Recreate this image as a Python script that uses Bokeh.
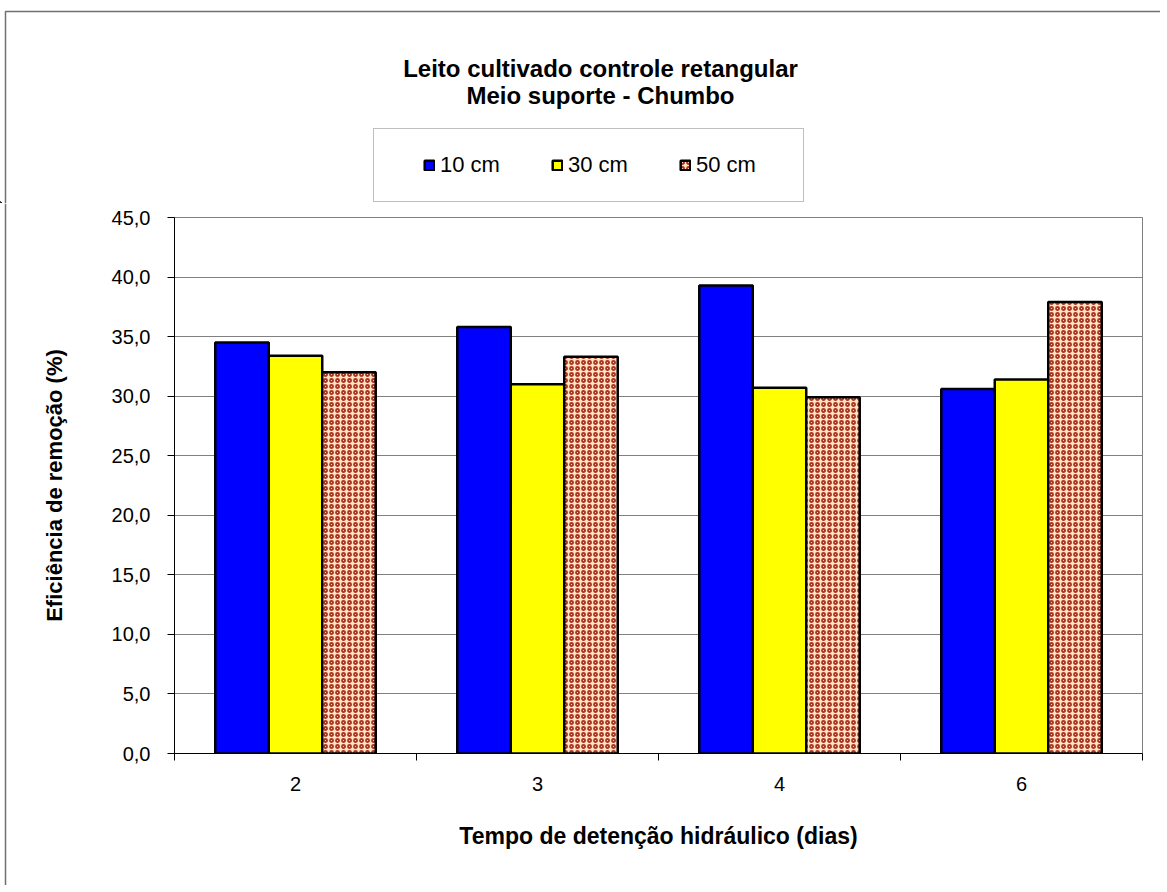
from bokeh.plotting import figure
from bokeh.layouts import column, row
from bokeh.models import Range1d, FixedTicker, Legend, LegendItem, Label
from bokeh.embed import file_html
from bokeh.resources import INLINE

# ---------------- data ----------------
categories = ["2", "3", "4", "6"]
series_names = ["10 cm", "30 cm", "50 cm"]
vals_10cm = [34.5, 35.8, 39.3, 30.6]
vals_30cm = [33.4, 31.0, 30.7, 31.4]
vals_50cm = [32.0, 33.3, 29.9, 37.9]
y_ticks = [0, 5, 10, 15, 20, 25, 30, 35, 40, 45]
y_tick_labels = ["0,0", "5,0", "10,0", "15,0", "20,0", "25,0", "30,0", "35,0", "40,0", "45,0"]
title_lines = ["Leito cultivado controle retangular", "Meio suporte - Chumbo"]
x_title = "Tempo de detenção hidráulico (dias)"
y_title = "Eficiência de remoção (%)"

# ---------------- layout (page px) ----------------
W, H = 1160, 885
HTOP = 203            # header figure height
WS = 10               # left strip width (chart border)
FL, FR, FT, FB = 174, 1142, 217, 753   # plot frame in page px
FONT = "Liberation Sans"
BORDER = dict(line_color="#707070", line_width=1.5)
Y_MAX = y_ticks[-1]
N = len(categories)

series = [vals_10cm, vals_30cm, vals_50cm]
styles = [
    dict(fill_color="#0000FF"),
    dict(fill_color="#FFFF00"),
    dict(fill_color="#FFE5C2", hatch_pattern="ring", hatch_color="#AC3424",
         hatch_scale=6, hatch_weight=1.8),
]

def bare(width, height):
    f = figure(width=width, height=height, x_range=Range1d(0, width), y_range=Range1d(0, height),
               output_backend="svg", toolbar_location=None,
               x_axis_location=None, y_axis_location=None,
               min_border=0, min_border_left=0, min_border_right=0,
               min_border_top=0, min_border_bottom=0, frame_align=False)
    f.grid.visible = False
    f.outline_line_color = None
    f.background_fill_color = "white"
    f.border_fill_color = "white"
    return f

# ---------------- header: title + legend ----------------
top = bare(W, HTOP)
top.line(x=[5, 5, W + 5], y=[0, HTOP - 11, HTOP - 11], **BORDER)
for line, base in zip(title_lines, [68, 95]):
    top.add_layout(Label(x=600, y=HTOP - base, text=line, text_align="center",
                         text_baseline="alphabetic", text_font=FONT,
                         text_font_style="bold", text_font_size="24px", text_color="black"))
# legend proxies (placed outside the visible header range)
dummies = [top.vbar(x=[-100], top=[1], width=1, bottom=0, line_color="black", line_width=2.5, **st)
           for st in styles]
leg = Legend(items=[LegendItem(label=n, renderers=[r]) for n, r in zip(series_names, dummies)],
             location=(373, HTOP - 202), orientation="horizontal",
             title="\u2003", title_location="left", title_standoff=0,
             title_text_font_size="22px",
             padding=23, spacing=27, margin=0,
             glyph_width=12, glyph_height=12, label_standoff=5, label_width=84,
             label_text_font=FONT, label_text_font_size="22px", label_text_color="black",
             border_line_color="#808080", border_line_width=1.5,
             background_fill_color="white", background_fill_alpha=1)
top.add_layout(leg, "center")

# ---------------- left strip (chart border) ----------------
HM = H - HTOP
strip = bare(WS, HM)
strip.line(x=[5, 5], y=[0, HM], **BORDER)

# ---------------- main chart ----------------
WM = W - WS
p = figure(width=WM, height=HM, x_range=Range1d(0, N), y_range=Range1d(0, Y_MAX),
           output_backend="svg", toolbar_location=None, frame_align=False,
           min_border_left=FL - WS, min_border_right=W - FR,
           min_border_top=FT - HTOP, min_border_bottom=H - FB)
p.background_fill_color = "white"
p.border_fill_color = "white"
p.outline_line_color = "#808080"
p.outline_line_width = 1
p.xgrid.visible = False
p.ygrid.grid_line_color = "#808080"
p.ygrid.grid_line_width = 1

bw = 0.221
offsets = [-bw, 0.0, bw]
for vals, off, st in zip(series, offsets, styles):
    xs = [i + 0.5 + off for i in range(N)]
    p.vbar(x=xs, top=vals, width=bw, bottom=0, line_color="black", line_width=2.5, **st)

# x axis
xa = p.xaxis[0]
xa.ticker = FixedTicker(ticks=[i + 0.5 for i in range(N)], minor_ticks=list(range(N + 1)))
xa.major_label_overrides = {i + 0.5: c for i, c in enumerate(categories)}
xa.major_tick_line_color = None
xa.major_tick_out = 0
xa.major_tick_in = 0
xa.minor_tick_out = 7
xa.minor_tick_in = 0
xa.minor_tick_line_color = "black"
xa.axis_line_color = "black"
xa.major_label_standoff = 16
xa.major_label_text_font = FONT
xa.major_label_text_font_size = "20px"
xa.major_label_text_color = "black"
xa.axis_label = x_title
xa.axis_label_text_font = FONT
xa.axis_label_text_font_style = "bold"
xa.axis_label_text_font_size = "23px"
xa.axis_label_text_color = "black"
xa.axis_label_standoff = 29

# y axis
ya = p.yaxis[0]
ya.ticker = FixedTicker(ticks=y_ticks, minor_ticks=[])
ya.major_label_overrides = {t: l for t, l in zip(y_ticks, y_tick_labels)}
ya.major_tick_out = 7
ya.major_tick_in = 0
ya.major_tick_line_color = "black"
ya.axis_line_color = "black"
ya.major_label_standoff = 17
ya.major_label_text_font = FONT
ya.major_label_text_font_size = "20px"
ya.major_label_text_color = "black"
ya.axis_label = y_title
ya.axis_label_text_font = FONT
ya.axis_label_text_font_style = "bold"
ya.axis_label_text_font_size = "22px"
ya.axis_label_text_color = "black"
ya.axis_label_standoff = 42

layout = column(top, row(strip, p, spacing=0), spacing=0)
open("out.html", "w").write(file_html(layout, INLINE))
